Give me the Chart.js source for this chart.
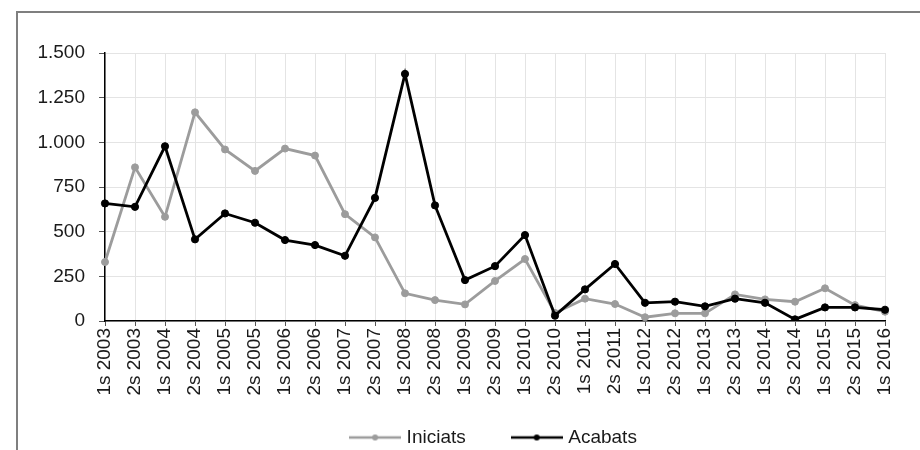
<!DOCTYPE html>
<html>
<head>
<meta charset="utf-8">
<script src="https://cdn.jsdelivr.net/npm/chart.js@4.4.1/dist/chart.umd.min.js"></script>
<style>
    html, body { margin: 0; padding: 0; background: #fff; overflow: hidden; }
    #marc { position: absolute; left: 16px; top: 11px; width: 960px; height: 480px; border-left: 2px solid #7f7f7f; border-top: 2px solid #7f7f7f; }
    #caixa { position: absolute; left: 0; top: 0; width: 920px; height: 477px; }
</style>
</head>
<body>
<div id="marc"></div>
<div id="caixa"><canvas id="myChart"></canvas></div>
<script>
// semestres
var categories = ['1s 2003', '2s 2003', '1s 2004', '2s 2004', '1s 2005', '2s 2005', '1s 2006', '2s 2006',
    '1s 2007', '2s 2007', '1s 2008', '2s 2008', '1s 2009', '2s 2009', '1s 2010', '2s 2010',
    '1s 2011', '2s 2011', '1s 2012', '2s 2012', '1s 2013', '2s 2013', '1s 2014', '2s 2014',
    '1s 2015', '2s 2015', '1s 2016'];
var iniciats = [330, 860, 583, 1168, 960, 840, 965, 926, 598, 468, 155, 117, 93, 224, 347, 45,
    125, 95, 21, 43, 43, 149, 121, 108, 183, 89, 52];
var acabats = [658, 639, 978, 457, 602, 550, 453, 425, 365, 689, 1383, 647, 229, 307, 481, 30,
    177, 319, 102, 108, 82, 125, 102, 9, 76, 76, 63];
var serieNoms = ['Iniciats', 'Acabats'];
var yMin = 0, yMax = 1500, yPas = 250;

var colorIniciats = '#9c9c9c';
var colorAcabats = '#000000';

Chart.defaults.font.family = '"Liberation Sans", Arial, sans-serif';
Chart.defaults.font.size = 19;
Chart.defaults.color = '#1a1a1a';

var milers = function (v) {
    return String(v).replace(/\B(?=(\d{3})+(?!\d))/g, '.');
}

// simbol de la llegenda: linia amb punt
var simbol = function (color) {
    var c = document.createElement('canvas');
    c.width = 52;
    c.height = 10;
    var g = c.getContext('2d');
    g.strokeStyle = color;
    g.lineWidth = 2.5;
    g.beginPath();
    g.moveTo(0, 5);
    g.lineTo(52, 5);
    g.stroke();
    g.fillStyle = color;
    g.beginPath();
    g.arc(26, 5, 3, 0, Math.PI * 2);
    g.fill();
    return c;
}
var simbols = [simbol(colorIniciats), simbol(colorAcabats)];

// puja la llegenda perque quedi a sota de les etiquetes
var pujaLlegenda = {
    id: 'pujaLlegenda',
    afterLayout: function (chart) {
        chart.legend.top -= 20;
        chart.legend.bottom -= 20;
    }
};

var ctx = document.getElementById('myChart');
var myChart = new Chart(ctx, {
    type: 'line',
    data: {
        labels: categories,
        datasets: [
            {
                label: serieNoms[0],
                data: iniciats,
                borderColor: colorIniciats,
                backgroundColor: colorIniciats,
                pointBackgroundColor: colorIniciats,
                pointBorderColor: colorIniciats,
                borderWidth: 2.8,
                pointRadius: 3.5,
                pointBorderWidth: 1,
                order: 1
            },
            {
                label: serieNoms[1],
                data: acabats,
                borderColor: colorAcabats,
                backgroundColor: colorAcabats,
                pointBackgroundColor: colorAcabats,
                pointBorderColor: colorAcabats,
                borderWidth: 2.8,
                pointRadius: 3.6,
                pointBorderWidth: 1,
                order: 0
            }
        ]
    },
    plugins: [pujaLlegenda],
    options: {
        responsive: true,
        maintainAspectRatio: false,
        animation: false,
        layout: { padding: { left: 0, top: 53, right: 35, bottom: 0 } },
        elements: { line: { tension: 0 } },
        plugins: {
            tooltip: { enabled: false },
            legend: {
                position: 'bottom',
                fullSize: false,
                labels: {
                    usePointStyle: true,
                    pointStyleWidth: 44,
                    padding: 49,
                    color: '#1a1a1a',
                    font: { size: 19 },
                    generateLabels: function (chart) {
                        var items = Chart.defaults.plugins.legend.labels.generateLabels(chart);
                        items.forEach(function (it) {
                            it.pointStyle = simbols[it.datasetIndex];
                        });
                        items.sort(function (a, b) { return a.datasetIndex - b.datasetIndex; });
                        return items;
                    }
                }
            }
        },
        scales: {
            x: {
                grid: { color: '#e4e4e4', tickColor: '#555', tickLength: 5, lineWidth: 1 },
                border: { color: '#000', width: 1.5 },
                ticks: { minRotation: 90, maxRotation: 90, autoSkip: false, padding: 2, color: '#1a1a1a' },
                afterFit: function (scale) { scale.height = 78; }
            },
            y: {
                min: yMin,
                max: yMax,
                grid: { color: '#e4e4e4', tickColor: '#555', tickLength: 6, lineWidth: 1 },
                border: { color: '#000', width: 1.5 },
                ticks: {
                    stepSize: yPas,
                    padding: 14,
                    color: '#1a1a1a',
                    callback: function (v) { return milers(v); }
                },
                afterFit: function (scale) { scale.width = 105; }
            }
        }
    }
});
</script>
</body>
</html>
